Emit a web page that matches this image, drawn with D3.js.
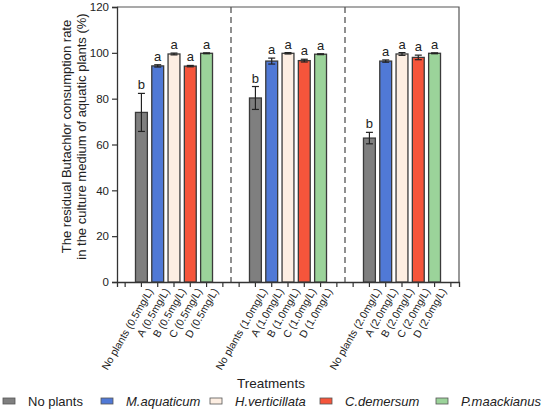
<!DOCTYPE html>
<html>
<head>
<meta charset="utf-8">
<script src="https://cdn.jsdelivr.net/npm/d3@7"></script>
<style>
  body { margin: 0; background: #fff; }
  text { font-family: "Liberation Sans", Arial, sans-serif; fill: #222; }
</style>
</head>
<body>
<svg id="chart" width="550" height="410"></svg>
<script>
  // treatments and concentrations
  var concs = ["0.5", "1.0", "2.0"];
  var plants = ["No plants", "A", "B", "C", "D"];
  var legendNames = ["No plants", "M.aquaticum", "H.verticillata", "C.demersum", "P.maackianus"];
  var colors = ["#7f7f7f", "#5079d6", "#fdeee2", "#f5553b", "#9bd39a"];

  // means per concentration (No plants, A, B, C, D)
  var means05 = [74.0, 94.3, 99.5, 94.2, 99.8];
  var means10 = [80.3, 96.4, 99.8, 96.6, 99.4];
  var means20 = [62.8, 96.4, 99.5, 98.0, 99.8];
  var errs05 = [8.3, 0.5, 0.4, 0.3, 0.2];
  var errs10 = [5.0, 1.3, 0.3, 0.6, 0.2];
  var errs20 = [2.5, 0.5, 0.6, 1.0, 0.2];
  var letters = ["b", "a", "a", "a", "a"];
  var yTicks = [0, 20, 40, 60, 80, 100, 120];

  var allMeans = [means05, means10, means20];
  var allErrs = [errs05, errs10, errs20];

  var svg = d3.select("#chart"),
    margin = { top: 7, right: 91, bottom: 128, left: 117 },
    width = +svg.attr("width") - margin.left - margin.right,
    height = +svg.attr("height") - margin.top - margin.bottom;

  // slot list: blank, 5 bars, blank, blank, 5 bars, blank, blank, 5 bars, blank
  var slots = [];
  var data = [];
  concs.forEach(function (c, gi) {
    slots.push("gap" + gi + "a");
    plants.forEach(function (p, pi) {
      var key = p + " (" + c + "mg/L)";
      slots.push(key);
      data.push({ key: key, i: pi, value: allMeans[gi][pi], err: allErrs[gi][pi], letter: letters[pi] });
    });
    slots.push("gap" + gi + "b");
  });

  var x = d3.scaleBand().domain(slots).range([0, width]).paddingInner(0.27).paddingOuter(0.135),
    y = d3.scaleLinear().domain([0, 120]).range([height, 0]);

  var g = svg.append("g")
    .attr("transform", "translate(" + margin.left + "," + margin.top + ")");

  // frame top / right
  g.append("path")
    .attr("d", "M0,0H" + width + "V" + height)
    .attr("fill", "none")
    .attr("stroke", "#555")
    .attr("stroke-width", 1.2);

  // dashed separators
  [7, 14].forEach(function (k) {
    g.append("line")
      .attr("x1", k * width / slots.length).attr("x2", k * width / slots.length)
      .attr("y1", 0).attr("y2", height)
      .attr("stroke", "#555")
      .attr("stroke-width", 1.3)
      .attr("stroke-dasharray", "6,4");
  });

  var xAxis = g.append("g")
    .attr("transform", "translate(0," + height + ")")
    .call(d3.axisBottom(x).tickSize(5).tickFormat(function (d) {
      return d.indexOf("gap") === 0 ? "" : d;
    }));
  xAxis.select(".domain").attr("stroke", "#333").attr("stroke-width", 1.3);
  xAxis.selectAll(".tick line").attr("stroke", "#333").attr("stroke-width", 1.2);
  xAxis.selectAll(".tick text")
    .attr("font-size", 10.5)
    .attr("fill", "#222")
    .attr("text-anchor", "end")
    .attr("transform", "translate(9,7) rotate(-60)")
    .attr("dy", "0.35em")
    .attr("y", 0)
    .attr("x", 0);

  var yAxis = g.append("g")
    .call(d3.axisLeft(y).tickValues(yTicks).tickSize(5).tickPadding(3));
  yAxis.select(".domain").attr("stroke", "#333").attr("stroke-width", 1.3);
  yAxis.selectAll(".tick line").attr("stroke", "#333").attr("stroke-width", 1.2);
  yAxis.selectAll(".tick text").attr("font-size", 11.5).attr("fill", "#222");

  // bars
  g.selectAll(".bar")
    .data(data)
    .enter()
    .append("rect")
    .attr("class", "bar")
    .attr("x", function (d) { return x(d.key); })
    .attr("y", function (d) { return y(d.value); })
    .attr("width", x.bandwidth())
    .attr("height", function (d) { return height - y(d.value); })
    .attr("fill", function (d) { return colors[d.i]; })
    .attr("stroke", "#3a3a3a")
    .attr("stroke-width", 1.3);

  // error bars
  var eb = g.selectAll(".err").data(data).enter().append("g").attr("class", "err");
  eb.append("line")
    .attr("x1", function (d) { return x(d.key) + x.bandwidth() / 2; })
    .attr("x2", function (d) { return x(d.key) + x.bandwidth() / 2; })
    .attr("y1", function (d) { return y(d.value + d.err); })
    .attr("y2", function (d) { return y(d.value - d.err); })
    .attr("stroke", "#222").attr("stroke-width", 1.2);
  [1, -1].forEach(function (s) {
    eb.append("line")
      .attr("x1", function (d) { return x(d.key) + x.bandwidth() / 2 - 3.5; })
      .attr("x2", function (d) { return x(d.key) + x.bandwidth() / 2 + 3.5; })
      .attr("y1", function (d) { return y(d.value + s * d.err); })
      .attr("y2", function (d) { return y(d.value + s * d.err); })
      .attr("stroke", "#222").attr("stroke-width", 1.2);
  });

  // significance letters
  g.selectAll(".letter")
    .data(data)
    .enter()
    .append("text")
    .attr("x", function (d) { return x(d.key) + x.bandwidth() / 2; })
    .attr("y", function (d) { return y(d.value + d.err) - 4; })
    .attr("text-anchor", "middle")
    .attr("font-size", 13)
    .text(function (d) { return d.letter; });

  // axis titles
  var yt = svg.append("text")
    .attr("transform", "translate(0," + (margin.top + height / 2 - 8) + ") rotate(-90)")
    .attr("text-anchor", "middle")
    .attr("font-size", 13);
  yt.append("tspan").attr("x", 0).attr("y", 71).text("The residual Butachlor consumption rate");
  yt.append("tspan").attr("x", 0).attr("y", 86).text("in the culture medium of aquatic plants (%)");

  svg.append("text")
    .attr("x", 271)
    .attr("y", 388)
    .attr("text-anchor", "middle")
    .attr("font-size", 13.5)
    .text("Treatments");

  // legend
  var legX = [3, 101, 210, 320, 436];
  var leg = svg.selectAll(".leg")
    .data(legendNames)
    .enter()
    .append("g")
    .attr("class", "leg")
    .attr("transform", function (d, i) { return "translate(" + legX[i] + ",401)"; });
  leg.append("rect")
    .attr("x", 0).attr("y", -3)
    .attr("width", 12).attr("height", 6)
    .attr("fill", function (d, i) { return colors[i]; })
    .attr("stroke", "#555").attr("stroke-width", 0.8);
  leg.append("text")
    .attr("x", 25).attr("y", 0)
    .attr("dy", "0.35em")
    .attr("font-size", 13)
    .attr("font-style", function (d, i) { return i === 0 ? "normal" : "italic"; })
    .text(function (d) { return d; });
</script>
</body>
</html>
